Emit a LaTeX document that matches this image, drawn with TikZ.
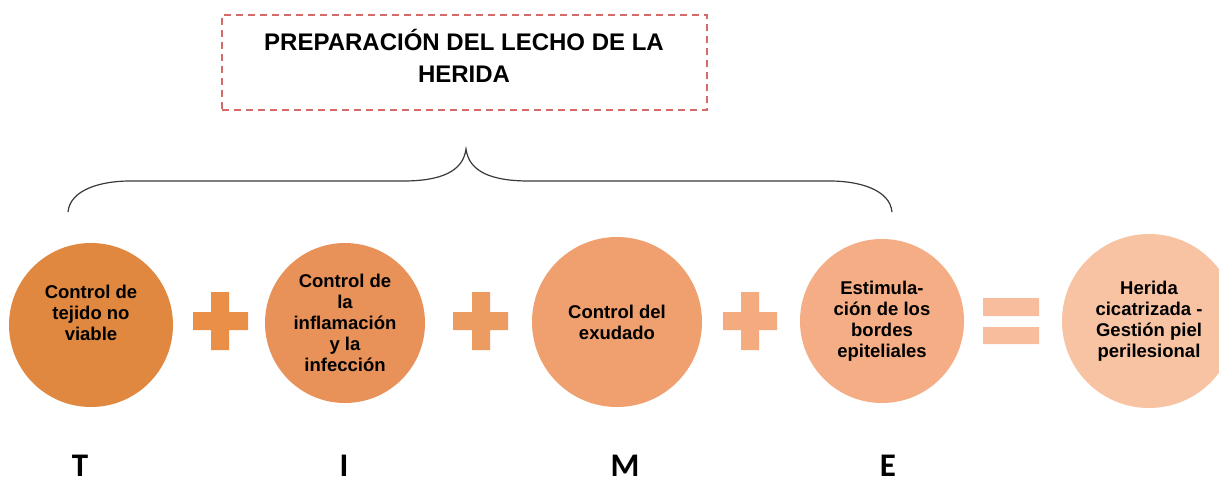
\documentclass[tikz,border=0pt]{standalone}
\usepackage{fontspec}
\setmainfont{Liberation Sans}
\newfontfamily\letterfont{Carlito}
\definecolor{cA}{HTML}{E0883F}
\definecolor{pA}{HTML}{E98F48}
\definecolor{cB}{HTML}{E8925A}
\definecolor{pB}{HTML}{EC9B61}
\definecolor{cC}{HTML}{EFA06E}
\definecolor{pC}{HTML}{F3AB7F}
\definecolor{cD}{HTML}{F4AD84}
\definecolor{pD}{HTML}{F7BD9C}
\definecolor{cE}{HTML}{F8C3A3}
\definecolor{boxred}{HTML}{D46A6A}
\definecolor{bracegray}{HTML}{3A3A3A}
\tikzset{
  stage/.style={circle, draw=none, inner sep=0pt, align=center,
    font=\fontsize{18.5}{21}\selectfont\bfseries},
  titlebox/.style={draw=boxred, line width=1.5pt, dash pattern=on 7pt off 5pt,
    minimum width=485pt, minimum height=95pt},
  titletext/.style={align=center, inner sep=0pt,
    font=\fontsize{24}{32}\selectfont\bfseries},
  letter/.style={anchor=base, font=\fontsize{33}{33}\selectfont\letterfont\bfseries, inner sep=0pt},
  bracestyle/.style={draw=bracegray, line width=1.2pt}
}
\begin{document}
\begin{tikzpicture}[x=1pt,y=-1pt]
\clip (0,0) rectangle (1219,483);
\fill[white] (0,0) rectangle (1219,483);
% title
\node[titlebox] (box) at (464.5,62.5) {};
\node[titletext] (title) at (464,56) {PREPARACIÓN DEL LECHO DE LA\\HERIDA};
% brace
\coordinate (bl) at (68,212);
\coordinate (br) at (892,212);
\coordinate (bt) at (466,149);
\draw[bracestyle] (bl) .. controls (70,190) and (100,181) .. (130,181)
  -- (403,181) .. controls (440,181) and (463,172) .. (bt)
  .. controls (469,172) and (492,181) .. (529,181)
  -- (830,181) .. controls (860,181) and (890,190) .. (br);
% circles
\node[stage, fill=cA, minimum size=164pt] (t) at (91,325) {Control de\\tejido no\\viable\\[4pt]};
\node[stage, fill=cB, minimum size=160pt] (i) at (345,323) {Control de\\la\\inflamación\\y la\\infección};
\node[stage, fill=cC, minimum size=170pt] (m) at (617,322) {Control del\\exudado};
\node[stage, fill=cD, minimum size=164pt] (e) at (882,321) {Estimula-\\ción de los\\bordes\\epiteliales};
\node[stage, fill=cE, minimum size=174pt] (h) at (1149,321) {Herida\\cicatrizada -\\Gestión piel\\perilesional};
% plus signs
\fill[pA] (211,292) rectangle (229,350) (193,312) rectangle (248,330);
\fill[pB] (472,292) rectangle (490,350) (453,312) rectangle (508,330);
\fill[pC] (741,292) rectangle (759,350) (723,312) rectangle (777,330);
% equals
\fill[pD] (983,298) rectangle (1039,316) (983,327) rectangle (1039,344);
% letters
\node[letter] (lt) at (80,476) {T};
\node[letter] (li) at (344,476) {I};
\node[letter] (lm) at (625,476) {M};
\node[letter] (le) at (888,476) {E};
\end{tikzpicture}
\end{document}
